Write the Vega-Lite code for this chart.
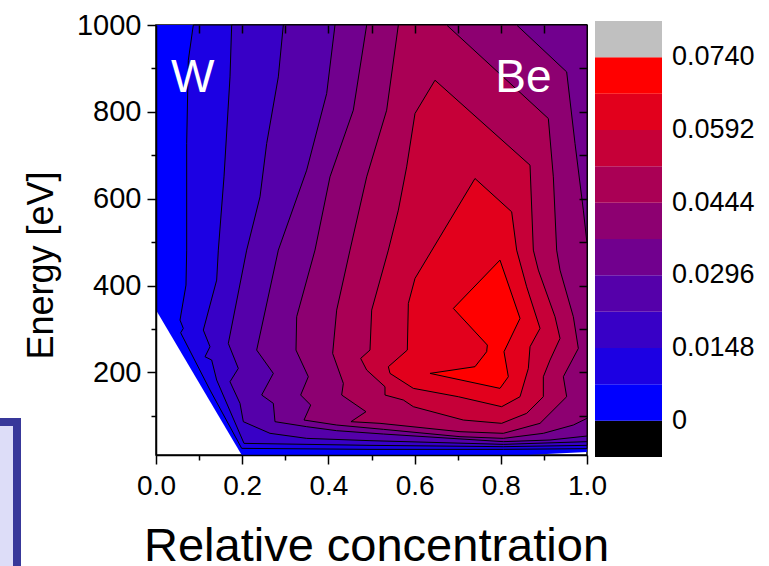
{
  "$schema": "https://vega.github.io/schema/vega-lite/v6.json",
  "width": 431,
  "height": 430,
  "autosize": {"type": "none"},
  "padding": {"left": 156, "top": 25, "right": 182, "bottom": 111},
  "background": "white",
  "config": {
    "font": "Liberation Sans",
    "view": {"stroke": "black", "strokeWidth": 1.5},
    "axis": {"domainColor": "black", "tickColor": "black", "labelColor": "black", "titleColor": "black", "labelFont": "Liberation Sans", "titleFont": "Liberation Sans", "grid": false, "domainWidth": 1.5, "tickWidth": 1.5, "zindex": 1, "titleFontWeight": "normal", "labelFontWeight": "normal"}
  },
  "datasets": {
    "poly": [
      {"p":0,"i":0,"x":0,"y":1000,"z":0.0037},{"p":0,"i":1,"x":1,"y":1000,"z":0.0037},{"p":0,"i":2,"x":1,"y":16.9,"z":0.0037},{"p":0,"i":3,"x":0.86,"y":10,"z":0.0037},{"p":0,"i":4,"x":0.1988,"y":10,"z":0.0037},{"p":0,"i":5,"x":0,"y":343.6,"z":0.0037},{"p":0,"i":6,"x":0,"y":1000,"z":0.0037},

      {"p":1,"i":0,"x":0.0866,"y":1000,"z":0.0111},{"p":1,"i":1,"x":0.075,"y":918.9,"z":0.0111},{"p":1,"i":2,"x":0.0712,"y":727.1,"z":0.0111},{"p":1,"i":3,"x":0.0712,"y":481.7,"z":0.0111},{"p":1,"i":4,"x":0.0696,"y":401.2,"z":0.0111},{"p":1,"i":5,"x":0.0557,"y":320.6,"z":0.0111},{"p":1,"i":6,"x":0.0634,"y":301.5,"z":0.0111},{"p":1,"i":7,"x":0.0572,"y":291.5,"z":0.0111},{"p":1,"i":8,"x":0.1253,"y":159.6,"z":0.0111},{"p":1,"i":9,"x":0.1988,"y":25.3,"z":0.0111},{"p":1,"i":10,"x":0.4965,"y":23,"z":0.0111},{"p":1,"i":11,"x":0.8059,"y":23,"z":0.0111},{"p":1,"i":12,"x":1,"y":24.6,"z":0.0111},{"p":1,"i":13,"x":1,"y":1000,"z":0.0111},{"p":1,"i":14,"x":0.0866,"y":1000,"z":0.0111},

      {"p":2,"i":0,"x":0.1756,"y":1000,"z":0.0185},{"p":2,"i":1,"x":0.1717,"y":880.5,"z":0.0185},{"p":2,"i":2,"x":0.1578,"y":650.4,"z":0.0185},{"p":2,"i":3,"x":0.1446,"y":481.7,"z":0.0185},{"p":2,"i":4,"x":0.1408,"y":412.7,"z":0.0185},{"p":2,"i":5,"x":0.1098,"y":297.6,"z":0.0185},{"p":2,"i":6,"x":0.1253,"y":259.3,"z":0.0185},{"p":2,"i":7,"x":0.1137,"y":236.3,"z":0.0185},{"p":2,"i":8,"x":0.1292,"y":228.6,"z":0.0185},{"p":2,"i":9,"x":0.1408,"y":182.6,"z":0.0185},{"p":2,"i":10,"x":0.2042,"y":36.8,"z":0.0185},{"p":2,"i":11,"x":0.4965,"y":32.2,"z":0.0185},{"p":2,"i":12,"x":0.8059,"y":29.2,"z":0.0185},{"p":2,"i":13,"x":1,"y":32.2,"z":0.0185},{"p":2,"i":14,"x":1,"y":1000,"z":0.0185},{"p":2,"i":15,"x":0.1756,"y":1000,"z":0.0185},

      {"p":3,"i":0,"x":0.2954,"y":1000,"z":0.0259},{"p":3,"i":1,"x":0.2838,"y":880.5,"z":0.0259},{"p":3,"i":2,"x":0.2568,"y":727.1,"z":0.0259},{"p":3,"i":3,"x":0.2413,"y":604.4,"z":0.0259},{"p":3,"i":4,"x":0.2104,"y":481.7,"z":0.0259},{"p":3,"i":5,"x":0.1678,"y":266.9,"z":0.0259},{"p":3,"i":6,"x":0.191,"y":209.4,"z":0.0259},{"p":3,"i":7,"x":0.1717,"y":178.7,"z":0.0259},{"p":3,"i":8,"x":0.1949,"y":128.9,"z":0.0259},{"p":3,"i":9,"x":0.2026,"y":86.7,"z":0.0259},{"p":3,"i":10,"x":0.2645,"y":59.9,"z":0.0259},{"p":3,"i":11,"x":0.3496,"y":48.3,"z":0.0259},{"p":3,"i":12,"x":0.4965,"y":43,"z":0.0259},{"p":3,"i":13,"x":0.8059,"y":34.5,"z":0.0259},{"p":3,"i":14,"x":1,"y":40.7,"z":0.0259},{"p":3,"i":15,"x":1,"y":1000,"z":0.0259},{"p":3,"i":16,"x":0.2954,"y":1000,"z":0.0259},

      {"p":4,"i":0,"x":0.4153,"y":1000,"z":0.0333},{"p":4,"i":1,"x":0.396,"y":842.2,"z":0.0333},{"p":4,"i":2,"x":0.3496,"y":665.8,"z":0.0333},{"p":4,"i":3,"x":0.2838,"y":481.7,"z":0.0333},{"p":4,"i":4,"x":0.2336,"y":251.6,"z":0.0333},{"p":4,"i":5,"x":0.2722,"y":197.9,"z":0.0333},{"p":4,"i":6,"x":0.2452,"y":148.1,"z":0.0333},{"p":4,"i":7,"x":0.2722,"y":128.9,"z":0.0333},{"p":4,"i":8,"x":0.2761,"y":86.7,"z":0.0333},{"p":4,"i":9,"x":0.3496,"y":75.2,"z":0.0333},{"p":4,"i":10,"x":0.4192,"y":66,"z":0.0333},{"p":4,"i":11,"x":0.5275,"y":58.3,"z":0.0333},{"p":4,"i":12,"x":0.8059,"y":40.7,"z":0.0333},{"p":4,"i":13,"x":0.9142,"y":44.5,"z":0.0333},{"p":4,"i":14,"x":1,"y":53.7,"z":0.0333},{"p":4,"i":15,"x":1,"y":1000,"z":0.0333},{"p":4,"i":16,"x":0.4153,"y":1000,"z":0.0333},

      {"p":5,"i":0,"x":0.4888,"y":1000,"z":0.0407},{"p":5,"i":1,"x":0.4578,"y":803.8,"z":0.0407},{"p":5,"i":2,"x":0.4037,"y":650.4,"z":0.0407},{"p":5,"i":3,"x":0.3689,"y":481.7,"z":0.0407},{"p":5,"i":4,"x":0.3264,"y":328.3,"z":0.0407},{"p":5,"i":5,"x":0.3248,"y":251.6,"z":0.0407},{"p":5,"i":6,"x":0.3534,"y":190.2,"z":0.0407},{"p":5,"i":7,"x":0.3357,"y":148.1,"z":0.0407},{"p":5,"i":8,"x":0.3589,"y":125,"z":0.0407},{"p":5,"i":9,"x":0.3434,"y":90.5,"z":0.0407},{"p":5,"i":10,"x":0.4192,"y":79,"z":0.0407},{"p":5,"i":11,"x":0.5275,"y":69.1,"z":0.0407},{"p":5,"i":12,"x":0.7053,"y":52.2,"z":0.0407},{"p":5,"i":13,"x":0.8059,"y":48.3,"z":0.0407},{"p":5,"i":14,"x":0.8987,"y":59.9,"z":0.0407},{"p":5,"i":15,"x":0.9683,"y":79,"z":0.0407},{"p":5,"i":16,"x":1,"y":94.4,"z":0.0407},{"p":5,"i":17,"x":1,"y":497.1,"z":0.0407},{"p":5,"i":18,"x":0.9915,"y":573.7,"z":0.0407},{"p":5,"i":19,"x":0.9722,"y":727.1,"z":0.0407},{"p":5,"i":20,"x":0.9528,"y":892,"z":0.0407},{"p":5,"i":21,"x":0.8368,"y":1000,"z":0.0407},{"p":5,"i":22,"x":0.4888,"y":1000,"z":0.0407},

      {"p":6,"i":0,"x":0.5623,"y":1000,"z":0.0481},{"p":6,"i":1,"x":0.5352,"y":803.8,"z":0.0481},{"p":6,"i":2,"x":0.4888,"y":650.4,"z":0.0481},{"p":6,"i":3,"x":0.4501,"y":481.7,"z":0.0481},{"p":6,"i":4,"x":0.4192,"y":343.6,"z":0.0481},{"p":6,"i":5,"x":0.4099,"y":243.9,"z":0.0481},{"p":6,"i":6,"x":0.4347,"y":174.9,"z":0.0481},{"p":6,"i":7,"x":0.4308,"y":148.1,"z":0.0481},{"p":6,"i":8,"x":0.4872,"y":109.7,"z":0.0481},{"p":6,"i":9,"x":0.4524,"y":86.7,"z":0.0481},{"p":6,"i":10,"x":0.5197,"y":82.9,"z":0.0481},{"p":6,"i":11,"x":0.7053,"y":63.7,"z":0.0481},{"p":6,"i":12,"x":0.8059,"y":59.9,"z":0.0481},{"p":6,"i":13,"x":0.891,"y":82.9,"z":0.0481},{"p":6,"i":14,"x":0.9528,"y":144.2,"z":0.0481},{"p":6,"i":15,"x":0.9451,"y":190.2,"z":0.0481},{"p":6,"i":16,"x":0.9799,"y":255.4,"z":0.0481},{"p":6,"i":17,"x":0.9683,"y":328.3,"z":0.0481},{"p":6,"i":18,"x":0.9374,"y":435.7,"z":0.0481},{"p":6,"i":19,"x":0.9296,"y":481.7,"z":0.0481},{"p":6,"i":20,"x":0.9219,"y":650.4,"z":0.0481},{"p":6,"i":21,"x":0.9103,"y":784.7,"z":0.0481},{"p":6,"i":22,"x":0.6744,"y":1000,"z":0.0481},{"p":6,"i":23,"x":0.5623,"y":1000,"z":0.0481},

      {"p":7,"i":0,"x":0.6473,"y":872.9,"z":0.0555},{"p":7,"i":1,"x":0.6009,"y":796.2,"z":0.0555},{"p":7,"i":2,"x":0.5816,"y":673.4,"z":0.0555},{"p":7,"i":3,"x":0.5623,"y":573.7,"z":0.0555},{"p":7,"i":4,"x":0.5391,"y":481.7,"z":0.0555},{"p":7,"i":5,"x":0.5004,"y":343.6,"z":0.0555},{"p":7,"i":6,"x":0.4965,"y":251.6,"z":0.0555},{"p":7,"i":7,"x":0.4749,"y":232.4,"z":0.0555},{"p":7,"i":8,"x":0.4888,"y":205.6,"z":0.0555},{"p":7,"i":9,"x":0.5313,"y":167.2,"z":0.0555},{"p":7,"i":10,"x":0.5313,"y":148.1,"z":0.0555},{"p":7,"i":11,"x":0.5739,"y":136.6,"z":0.0555},{"p":7,"i":12,"x":0.5971,"y":121.2,"z":0.0555},{"p":7,"i":13,"x":0.7131,"y":90.5,"z":0.0555},{"p":7,"i":14,"x":0.802,"y":82.9,"z":0.0555},{"p":7,"i":15,"x":0.86,"y":105.9,"z":0.0555},{"p":7,"i":16,"x":0.8987,"y":144.2,"z":0.0555},{"p":7,"i":17,"x":0.8987,"y":190.2,"z":0.0555},{"p":7,"i":18,"x":0.9142,"y":228.6,"z":0.0555},{"p":7,"i":19,"x":0.9374,"y":278.5,"z":0.0555},{"p":7,"i":20,"x":0.9258,"y":328.3,"z":0.0555},{"p":7,"i":21,"x":0.8871,"y":435.7,"z":0.0555},{"p":7,"i":22,"x":0.8755,"y":481.7,"z":0.0555},{"p":7,"i":23,"x":0.8678,"y":677.3,"z":0.0555},{"p":7,"i":24,"x":0.6473,"y":872.9,"z":0.0555},

      {"p":8,"i":0,"x":0.7401,"y":646.6,"z":0.0629},{"p":8,"i":1,"x":0.8252,"y":569.9,"z":0.0629},{"p":8,"i":2,"x":0.8368,"y":481.7,"z":0.0629},{"p":8,"i":3,"x":0.86,"y":397.3,"z":0.0629},{"p":8,"i":4,"x":0.891,"y":301.5,"z":0.0629},{"p":8,"i":5,"x":0.8678,"y":259.3,"z":0.0629},{"p":8,"i":6,"x":0.8639,"y":209.4,"z":0.0629},{"p":8,"i":7,"x":0.8446,"y":144.2,"z":0.0629},{"p":8,"i":8,"x":0.802,"y":121.2,"z":0.0629},{"p":8,"i":9,"x":0.7015,"y":144.2,"z":0.0629},{"p":8,"i":10,"x":0.5971,"y":163.4,"z":0.0629},{"p":8,"i":11,"x":0.5429,"y":197.9,"z":0.0629},{"p":8,"i":12,"x":0.5391,"y":213.3,"z":0.0629},{"p":8,"i":13,"x":0.5831,"y":251.6,"z":0.0629},{"p":8,"i":14,"x":0.5855,"y":359,"z":0.0629},{"p":8,"i":15,"x":0.6009,"y":416.5,"z":0.0629},{"p":8,"i":16,"x":0.7401,"y":646.6,"z":0.0629},

      {"p":9,"i":0,"x":0.7981,"y":458.7,"z":0.0703},{"p":9,"i":1,"x":0.6899,"y":347.5,"z":0.0703},{"p":9,"i":2,"x":0.7688,"y":263.1,"z":0.0703},{"p":9,"i":3,"x":0.7672,"y":247.8,"z":0.0703},{"p":9,"i":4,"x":0.7401,"y":213.3,"z":0.0703},{"p":9,"i":5,"x":0.6357,"y":197.9,"z":0.0703},{"p":9,"i":6,"x":0.7981,"y":163.4,"z":0.0703},{"p":9,"i":7,"x":0.8175,"y":190.2,"z":0.0703},{"p":9,"i":8,"x":0.8074,"y":247.8,"z":0.0703},{"p":9,"i":9,"x":0.8446,"y":324.5,"z":0.0703},{"p":9,"i":10,"x":0.7981,"y":458.7,"z":0.0703}
    ],
    "labels": [
      {"t": "W", "x": 0.035, "y": 845},
      {"t": "Be", "x": 0.787, "y": 845}
    ],
    "box": [
      {"x": -0.6, "x2": -0.3225, "y": 85.9, "y2": -500}
    ]
  },
  "layer": [
    {
      "data": {"name": "box"},
      "mark": {"type": "rect", "clip": false, "fill": "#DDDDF8", "stroke": "#38389A", "strokeWidth": 8},
      "encoding": {
        "x": {"field": "x", "type": "quantitative", "scale": {"domain": [0, 1], "nice": false, "zero": false}, "axis": null},
        "x2": {"field": "x2"},
        "y": {"field": "y", "type": "quantitative", "scale": {"domain": [10, 1000], "nice": false, "zero": false}, "axis": null},
        "y2": {"field": "y2"}
      }
    },
    {
      "data": {"name": "poly"},
      "encoding": {
        "x": {"field": "x", "type": "quantitative", "scale": {"domain": [0, 1], "nice": false, "zero": false},
          "axis": {"orient": "bottom", "zindex": 1, "values": [0, 0.1, 0.2, 0.3, 0.4, 0.5, 0.6, 0.7, 0.8, 0.9, 1.0],
            "labelExpr": "round(datum.value*10) % 2 == 0 ? format(datum.value, '.1f') : ''",
            "tickSize": {"condition": {"test": "round(datum.value*10) % 2 == 0", "value": 9}, "value": 5},
            "labelFlush": false, "labelOverlap": false, "labelFontSize": 28, "labelPadding": 8,
            "title": "Relative concentration", "titleFontSize": 47, "titleX": 220, "titleY": 105, "titleBaseline": "alphabetic", "titleAlign": "center"}},
        "y": {"field": "y", "type": "quantitative", "scale": {"domain": [10, 1000], "nice": false, "zero": false},
          "axis": {"orient": "left", "zindex": 1, "values": [100, 200, 300, 400, 500, 600, 700, 800, 900, 1000],
            "labelExpr": "datum.value % 200 == 0 ? format(datum.value, 'd') : ''",
            "tickSize": {"condition": {"test": "datum.value % 200 == 0", "value": 9}, "value": 5},
            "labelOverlap": false, "labelFontSize": 29, "labelPadding": 6,
            "title": "Energy [eV]", "titleFontSize": 36, "titleX": -104, "titleY": 240, "titleAngle": 270, "titleBaseline": "alphabetic", "titleAlign": "center"}},
        "order": {"field": "i", "type": "quantitative"},
        "color": {"field": "z", "type": "quantitative",
          "scale": {"type": "threshold", "domain": [0, 0.0074, 0.0148, 0.0222, 0.0296, 0.037, 0.0444, 0.0518, 0.0592, 0.0666, 0.074],
            "range": ["#000000", "#0000FF", "#1C00E3", "#3800C6", "#5500AA", "#71008E", "#8D0071", "#AA0055", "#C60038", "#E2001C", "#FF0000", "#C0C0C0"]},
          "legend": {"type": "gradient", "orient": "none", "legendX": 439, "legendY": -4, "direction": "vertical",
            "gradientLength": 436, "gradientThickness": 67, "gradientStrokeWidth": 0, "title": null, "padding": 0,
            "labelFontSize": 27, "labelFont": "Liberation Sans", "labelColor": "black", "labelOffset": 10, "labelOverlap": false,
            "labelExpr": "round(datum.value/0.0074) == 0 ? '0' : (round(datum.value/0.0074) % 2 == 0 ? format(datum.value, '.4f') : '')"}}
      },
      "layer": [
        {"transform": [{"filter": "datum.p == 0"}], "mark": {"type": "line", "filled": true, "strokeWidth": 0}},
        {"transform": [{"filter": "datum.p == 1"}], "mark": {"type": "line", "filled": true, "stroke": "black", "strokeWidth": 1}},
        {"transform": [{"filter": "datum.p == 2"}], "mark": {"type": "line", "filled": true, "stroke": "black", "strokeWidth": 1}},
        {"transform": [{"filter": "datum.p == 3"}], "mark": {"type": "line", "filled": true, "stroke": "black", "strokeWidth": 1}},
        {"transform": [{"filter": "datum.p == 4"}], "mark": {"type": "line", "filled": true, "stroke": "black", "strokeWidth": 1}},
        {"transform": [{"filter": "datum.p == 5"}], "mark": {"type": "line", "filled": true, "stroke": "black", "strokeWidth": 1}},
        {"transform": [{"filter": "datum.p == 6"}], "mark": {"type": "line", "filled": true, "stroke": "black", "strokeWidth": 1}},
        {"transform": [{"filter": "datum.p == 7"}], "mark": {"type": "line", "filled": true, "stroke": "black", "strokeWidth": 1}},
        {"transform": [{"filter": "datum.p == 8"}], "mark": {"type": "line", "filled": true, "stroke": "black", "strokeWidth": 1}},
        {"transform": [{"filter": "datum.p == 9"}], "mark": {"type": "line", "filled": true, "stroke": "black", "strokeWidth": 1}}
      ]
    },
    {
      "data": {"name": "labels"},
      "mark": {"type": "text", "color": "white", "fontSize": 46, "font": "Liberation Sans", "align": "left", "baseline": "alphabetic"},
      "encoding": {
        "x": {"field": "x", "type": "quantitative", "scale": {"domain": [0, 1], "nice": false, "zero": false},
          "axis": {"orient": "top", "zindex": 2, "values": [0.1, 0.2, 0.3, 0.4, 0.5, 0.6, 0.7, 0.8, 0.9], "labels": false, "domain": false, "tickSize": 8, "offset": -8, "title": null}},
        "y": {"field": "y", "type": "quantitative", "scale": {"domain": [10, 1000], "nice": false, "zero": false},
          "axis": {"orient": "right", "zindex": 2, "values": [100, 200, 300, 400, 500, 600, 700, 800, 900], "labels": false, "domain": false, "tickSize": 8, "offset": -8, "title": null}},
        "text": {"field": "t"}
      }
    }
  ],
  "resolve": {"axis": {"x": "independent", "y": "independent"}}
}
